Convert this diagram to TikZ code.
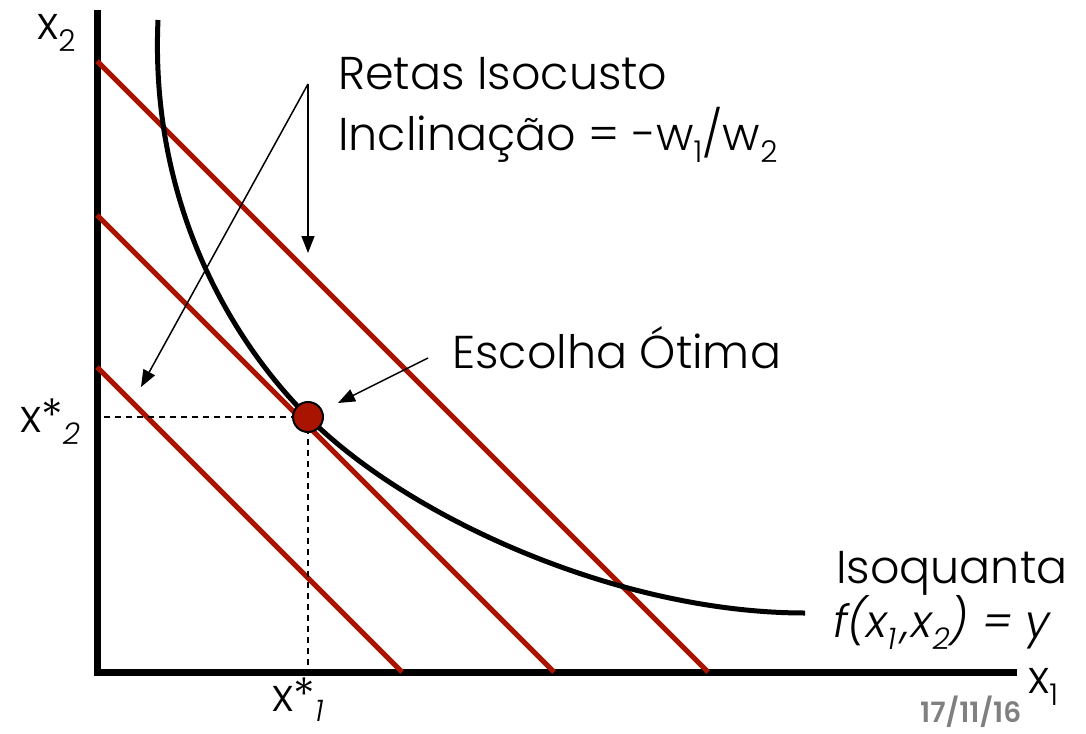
\documentclass[tikz,border=0pt]{standalone}
\usepackage{fontspec}
\setmainfont{Poppins Light}[BoldFont=Poppins SemiBold,ItalicFont=Poppins Light Italic]
\usetikzlibrary{arrows.meta}
\definecolor{isored}{RGB}{168,20,0}
\definecolor{dategray}{RGB}{128,128,128}
\newcommand\lsub[1]{\raisebox{-12pt}{\fontsize{30}{30}\selectfont #1}}
\begin{document}
\begin{tikzpicture}[x=1pt,y=-1pt,
  axis/.style={line width=7pt},
  isocost/.style={draw=isored,line width=5pt},
  isoq/.style={line width=5pt},
  ann/.style={line width=1.5pt,-{Triangle[length=17pt,width=13pt]}},
  guide/.style={line width=1.5pt,dash pattern=on 6pt off 5pt},
  lab/.style={font=\fontsize{46}{52}\selectfont,inner sep=0pt,anchor=base west},
  ilab/.style={lab,font=\fontsize{45}{52}\selectfont\itshape},
  datelab/.style={font=\fontsize{28}{32}\selectfont\bfseries,text=dategray,inner sep=0pt,anchor=base west}
]
\useasboundingbox (0,0) rectangle (1086,733);
% axes
\coordinate (O) at (97,672);
\coordinate (Ytop) at (97,10);
\coordinate (Xend) at (1017,672);
\draw[axis] (Ytop) -- (O) -- (Xend);
% isocost lines
\coordinate (a1) at (97,61);  \coordinate (b1) at (708,672);
\coordinate (a2) at (97,215); \coordinate (b2) at (554,672);
\coordinate (a3) at (97,367); \coordinate (b3) at (402,672);
\draw[isocost] (a1) -- (b1);
\draw[isocost] (a2) -- (b2);
\draw[isocost] (a3) -- (b3);
% isoquant
\coordinate (P) at (308,417);
\coordinate (qs) at (158,20);
\coordinate (qe) at (805,613);
\draw[isoq] (qs) .. controls (150,200) and (228,337) .. (P)
  .. controls (410,519) and (620,613) .. (qe);
% guides
\draw[guide] (P) -- (P -| O);
\draw[guide] (P) -- (P |- O);
\node[circle,fill=isored,draw=black,line width=2pt,minimum size=30pt,inner sep=0pt] (opt) at (P) {};
% annotation arrows
\coordinate (fork) at (308,84);
\coordinate (tipA) at (308,253);
\coordinate (tipB) at (141,387);
\coordinate (escs) at (428,358);
\coordinate (escTip) at (338,403);
\draw[ann] (fork) -- (tipA);
\draw[ann] (fork) -- (tipB);
\draw[ann] (escs) -- (escTip);
% labels
\node[lab] (retas) at (338,90) {Retas Isocusto};
\node[lab] (incl) at (338,150) {Inclinação = -w\lsub{1}/w\lsub{2}};
\node[lab] (esc) at (452,368) {Escolha Ótima};
\node[lab] (isoqn) at (836,583) {Isoquanta};
\node[ilab] (fx) at (833,637) {f(x\lsub{1}\kern6pt,\kern2pt x\lsub{2}) = y};
\node[lab] (x1) at (1028,693) {x\lsub{1}};
\node[lab] (x2) at (37,40) {x\lsub{2}};
\node[lab] (xs2) at (20,432) {x*\lsub{\itshape 2}};
\node[lab] (xs1) at (272,711) {x*\raisebox{-10pt}{\fontsize{30}{30}\selectfont\itshape 1}};
\node[datelab] (date) at (920,722) {17/11/16};
\end{tikzpicture}
\end{document}
